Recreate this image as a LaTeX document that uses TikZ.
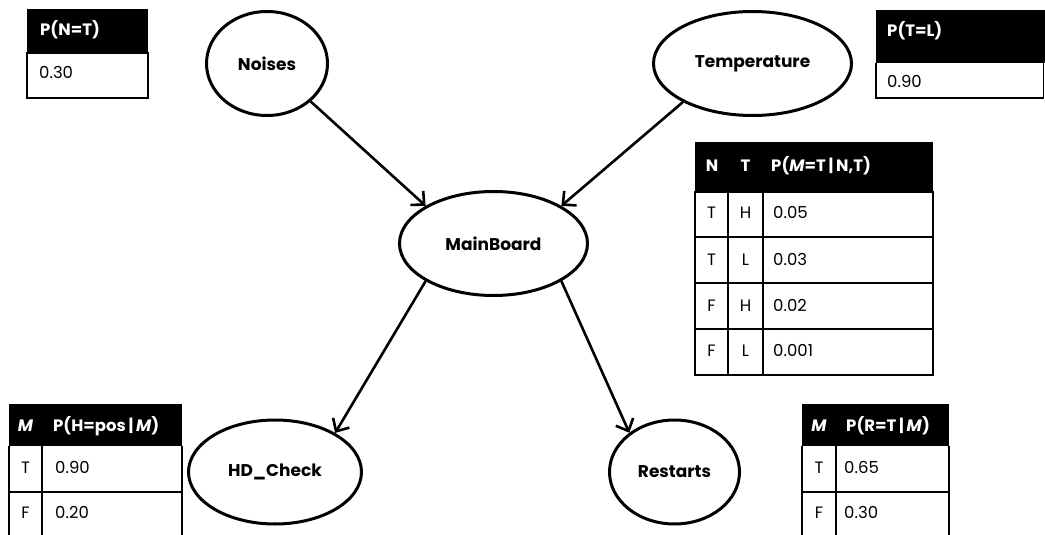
\documentclass[tikz,border=0pt]{standalone}
\usepackage{fontspec}
\setmainfont{Poppins}
\usetikzlibrary{shapes.geometric,arrows.meta}
\begin{document}
\begin{tikzpicture}[x=1pt,y=-1pt,
  font=\fontsize{16.5}{19}\selectfont,
  state/.style={ellipse,draw,line width=3pt,inner sep=0pt,
    minimum height=104pt,font=\fontsize{17}{20}\selectfont\bfseries},
  edge/.style={line width=2.6pt,-{Straight Barb[length=10pt,width=19pt]}},
  cellline/.style={draw=black,line width=1.2pt},
  htxt/.style={text=white,font=\fontsize{16.5}{19}\selectfont\bfseries,inner sep=0pt,anchor=base west},
  hctr/.style={htxt,anchor=base},
  btxt/.style={inner sep=0pt,anchor=base west},
  bctr/.style={inner sep=0pt,anchor=base}
]
\useasboundingbox[fill=white] (0,0) rectangle (1045,535);

% network nodes
\node[state,minimum width=121pt] (noises) at (267,63.5) {Noises};
\node[state,minimum width=198pt] (temp) at (752.5,63.5) {Temperature};
\node[state,minimum width=188pt] (mb) at (493.5,243.5) {MainBoard};
\node[state,minimum width=173pt] (hd) at (275,472) {HD\_Check};
\node[state,minimum width=130pt] (rs) at (674.5,472) {Restarts};

% dependencies
\draw[edge] (noises.-41) -- (mb.151);
\draw[edge] (temp.209) -- (mb.29);
\draw[edge] (mb.209) -- (hd.33);
\draw[edge] (mb.-29) -- (rs.139);

% P(N)
\fill (27,9) rectangle (148,53);
\draw[cellline] (27,53) rectangle (148,98);
\node[htxt] (n-h) at (40,36) {P(N=T)};
\node[btxt] (n-v) at (39,78) {0.30};

% P(T)
\fill (876,10) rectangle (1045,63);
\draw[cellline] (876,63) -- (876,98) -- (1043.5,98) -- (1043.5,63);
\node[htxt] (t-h) at (887,37) {P(T=L)};
\node[btxt] (t-v) at (887,88) {0.90};

% P(M | N,T)
\fill (695,142) rectangle (933,192);
\draw[cellline] (695,192) rectangle (933,375);
\draw[cellline] (728,192) -- (728,375) (763,192) -- (763,375);
\draw[cellline] (695,237) -- (933,237) (695,283) -- (933,283) (695,329) -- (933,329);
\node[hctr] (m-hn) at (712,171) {N};
\node[hctr] (m-ht) at (745.5,171) {T};
\node[htxt] (m-hp) at (771,171) {P(\textit{M}=T\,|\,N,T)};
\node[bctr] (m-n1) at (711.5,218) {T};
\node[bctr] (m-t1) at (745.5,218) {H};
\node[btxt] (m-p1) at (773,218) {0.05};
\node[bctr] (m-n2) at (711.5,265) {T};
\node[bctr] (m-t2) at (745.5,265) {L};
\node[btxt] (m-p2) at (773,265) {0.03};
\node[bctr] (m-n3) at (711.5,311) {F};
\node[bctr] (m-t3) at (745.5,311) {H};
\node[btxt] (m-p3) at (773,311) {0.02};
\node[bctr] (m-n4) at (711.5,356) {F};
\node[bctr] (m-t4) at (745.5,356) {L};
\node[btxt] (m-p4) at (773,356) {0.001};

% P(H | M)
\fill (9,404) rectangle (182,446);
\draw[cellline] (9,446) -- (9,535) (42,446) -- (42,535) (182,446) -- (182,535) (9,492) -- (182,492);
\node[hctr] (h-hm) at (25.5,431) {\textit{M}};
\node[htxt] (h-hp) at (53,431) {P(H=pos\,|\,\textit{M})};
\node[bctr] (h-m1) at (25.5,473) {T};
\node[btxt] (h-p1) at (55,473) {0.90};
\node[bctr] (h-m2) at (25.5,518) {F};
\node[btxt] (h-p2) at (55,518) {0.20};

% P(R | M)
\fill (802,404) rectangle (949,446);
\draw[cellline] (802,446) -- (802,535) (836,446) -- (836,535) (949,446) -- (949,535) (802,492) -- (949,492);
\node[hctr] (r-hm) at (819,431) {\textit{M}};
\node[htxt] (r-hp) at (846,431) {P(R=T\,|\,\textit{M})};
\node[bctr] (r-m1) at (819,473) {T};
\node[btxt] (r-p1) at (844,473) {0.65};
\node[bctr] (r-m2) at (819,518) {F};
\node[btxt] (r-p2) at (844,518) {0.30};
\end{tikzpicture}
\end{document}
